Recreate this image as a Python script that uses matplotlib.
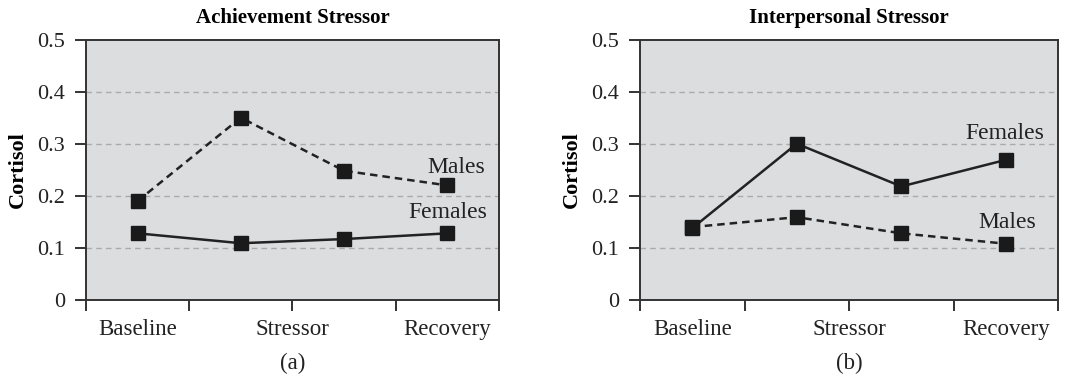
import numpy as np
import matplotlib.pyplot as plt
import matplotlib as mpl

mpl.rcParams['font.family'] = 'Liberation Serif'

phase_labels = ['Baseline', 'Stressor', 'Recovery']
phase_pos = [0.5, 2.0, 3.5]
x_points = [0.5, 1.5, 2.5, 3.5]

titles = ['Achievement Stressor', 'Interpersonal Stressor']
panel_tags = ['(a)', '(b)']

males_ach = [0.19, 0.35, 0.248, 0.22]
females_ach = [0.128, 0.109, 0.117, 0.128]
males_int = [0.14, 0.159, 0.128, 0.108]
females_int = [0.138, 0.30, 0.218, 0.269]

# label positions (x, y) for the series names
label_pos = [
    {'Males': (3.59, 0.255), 'Females': (3.5, 0.168)},
    {'Females': (3.49, 0.32), 'Males': (3.51, 0.149)},
]

bg = '#dcdddf'
spine_col = '#333333'

fig = plt.figure(figsize=(10.73, 3.77), dpi=100)
ax1 = fig.add_axes([0.0801, 0.2042, 0.385, 0.691])
ax2 = fig.add_axes([0.5965, 0.2042, 0.3896, 0.691])

panels = [(ax1, males_ach, females_ach), (ax2, males_int, females_int)]

for i, (ax, males, females) in enumerate(panels):
    ax.set_facecolor(bg)
    ax.set_xlim(0, 4)
    ax.set_ylim(0, 0.5)
    for yv in [0.1, 0.2, 0.3, 0.4]:
        ax.axhline(yv, color='#aaaaaa', linestyle=(0, (4, 3)), linewidth=1.0, zorder=1)

    ax.plot(x_points, females, color='#222222', linewidth=1.8, linestyle='-',
            marker='s', markersize=9.5, markerfacecolor='#1a1a1a',
            markeredgecolor='#1a1a1a', zorder=3)
    ax.plot(x_points, males, color='#222222', linewidth=1.8, linestyle=(0, (3, 2)),
            marker='s', markersize=9.5, markerfacecolor='#1a1a1a',
            markeredgecolor='#1a1a1a', zorder=3)

    for name, (lx, ly) in label_pos[i].items():
        ax.text(lx, ly, name, ha='center', va='center', fontsize=17, color='#222222')

    for s in ax.spines.values():
        s.set_color(spine_col)
        s.set_linewidth(1.4)

    ax.xaxis.remove_overlapping_locs = False
    ax.set_xticks([0, 1, 2, 3, 4])
    ax.set_xticklabels([])
    ax.set_xticks(phase_pos, phase_labels, minor=True)
    ax.tick_params(axis='x', which='major', length=8, width=1.4, color=spine_col, direction='out')
    ax.tick_params(axis='x', which='minor', length=0, pad=14, labelsize=16.5, labelcolor='#222222')

    ax.set_yticks([0, 0.1, 0.2, 0.3, 0.4, 0.5])
    ax.set_yticklabels(['0', '0.1', '0.2', '0.3', '0.4', '0.5'])
    ax.tick_params(axis='y', length=8, width=1.4, color=spine_col, labelsize=16,
                   labelcolor='#222222', pad=7)

    ax.set_ylabel('Cortisol', fontsize=16, fontweight='bold', labelpad=7)
    ax.set_title(titles[i], fontsize=15, fontweight='bold', pad=12)

    bb = ax.get_position()
    fig.text(bb.x0 + bb.width / 2, 0.035, panel_tags[i], ha='center', va='center',
             fontsize=16.5, color='#222222')

fig.savefig('out.png', dpi=100)
